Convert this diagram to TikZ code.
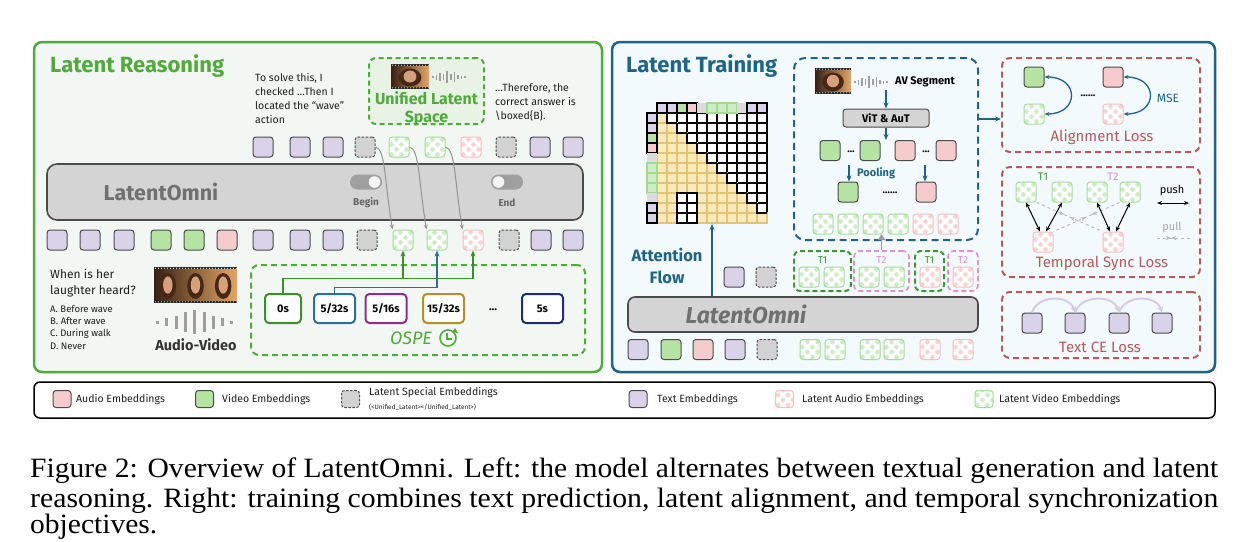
\documentclass[tikz,border=0pt]{standalone}
\usepackage{fontspec}
\setmainfont{Fira Sans}
\newfontfamily\capfont{Liberation Serif}
\usetikzlibrary{arrows.meta,calc,decorations.markings}
\definecolor{lrG}{RGB}{80,170,60}
\definecolor{lrF}{RGB}{243,247,244}
\definecolor{ltB}{RGB}{30,100,135}
\definecolor{ltF}{RGB}{242,250,253}
\definecolor{lossR}{RGB}{180,90,90}
\definecolor{tokP}{RGB}{217,210,233}
\definecolor{tokG}{RGB}{180,227,162}
\definecolor{tokR}{RGB}{246,203,203}
\definecolor{tokS}{RGB}{210,210,210}
\definecolor{tokB}{RGB}{75,75,75}
\definecolor{chkGB}{RGB}{160,220,145}
\definecolor{chkG}{RGB}{206,237,198}
\definecolor{chkRB}{RGB}{243,190,190}
\definecolor{chkR}{RGB}{249,212,212}
\definecolor{barG}{RGB}{212,212,212}
\definecolor{barT}{RGB}{112,112,112}
\definecolor{mY}{RGB}{252,235,185}
\definecolor{mYB}{RGB}{226,195,120}
\definecolor{cA}{RGB}{62,142,46}
\definecolor{cB}{RGB}{43,112,153}
\definecolor{cC}{RGB}{140,46,140}
\definecolor{cD}{RGB}{184,144,42}
\definecolor{cE}{RGB}{29,47,112}
\definecolor{tPk}{RGB}{225,140,215}
\definecolor{tGn}{RGB}{62,150,46}
\definecolor{txt}{RGB}{30,30,30}
\definecolor{ceP}{RGB}{213,204,230}
\definecolor{ulF}{RGB}{232,243,230}
\definecolor{skin}{RGB}{214,160,125}
\definecolor{hair}{RGB}{70,40,25}
\newcommand\chkpat[1]{%
  \foreach \ci in {0,1,2,3}{\foreach \cj in {0,1,2,3}{%
    \pgfmathtruncatemacro\ck{mod(\ci+\cj,2)}%
    \ifnum\ck=0 \fill[#1] ($(path picture bounding box.south west)+(\ci*5pt,\cj*5pt)$) rectangle ++(5pt,5pt);\fi}}}
\newcommand\wavebars[5]{%
  \foreach \hh [count=\nn from 0] in {#5}{\fill[gray!75] (#1+\nn*#3,#2-\hh) rectangle ++(#4,2*\hh);}}
\newcommand\thumb[5]{%
  \fill[black!85] (#1,#2) rectangle (#3,#4);
  \shade[left color=hair!80!black, right color=orange!40!brown!70!white] (#1,#2+2.5) rectangle (#3,#4-2.5);
  \foreach \ff in {1,...,#5}{%
    \pgfmathsetmacro\fx{#1+(\ff-0.5)*(#3-#1)/#5}%
    \pgfmathsetmacro\fy{(#2+#4)/2}%
    \pgfmathsetmacro\fw{(#3-#1)/#5}%
    \pgfmathsetmacro\fh{(#4-#2)}%
    \fill[hair] (\fx,\fy+1) ellipse ({\fw*0.3} and {\fh*0.36});
    \fill[skin] (\fx,\fy) ellipse ({\fw*0.17} and {\fh*0.24});}
  \foreach \k in {0,...,40}{%
    \pgfmathsetmacro\sx{#1+1.5+3*\k}%
    \ifdim\sx pt<#3pt \fill[white] (\sx,#2+1.2) circle (0.55); \fill[white] (\sx,#4-1.2) circle (0.55);\fi}}
\tikzset{
  tok/.style={minimum size=20pt, inner sep=0pt, rounded corners=3pt, line width=1pt, draw=tokB},
  tp/.style={tok, fill=tokP},
  tg/.style={tok, fill=tokG},
  tr/.style={tok, fill=tokR},
  ts/.style={tok, fill=tokS, dash pattern=on 2.5pt off 1.5pt},
  lg/.style={tok, draw=chkGB, fill=white, path picture={\chkpat{chkG}}},
  lr/.style={tok, draw=chkRB, fill=white, path picture={\chkpat{chkR}}},
  lgd/.style={minimum width=18pt, minimum height=17pt},
  lobar/.style={draw=tokB, fill=barG, line width=1.6pt, rounded corners=10pt},
  body/.style={text=txt, font=\fontsize{10.5}{14}\selectfont, inner sep=0pt, align=left},
  tbox/.style={draw=#1, line width=2pt, rounded corners=4pt, fill=white, minimum height=29pt, minimum width=41pt, inner sep=0pt, text=black, font=\bfseries\fontsize{11}{13}\selectfont},
  lossbox/.style={draw=lossR, line width=2pt, dash pattern=on 6pt off 4pt, rounded corners=8pt},
  losst/.style={text=lossR, font=\fontsize{15}{17}\selectfont},
  garr/.style={draw=gray!85, line width=1pt, -{Stealth[length=5pt,width=4pt]}},
  harr/.style={draw=black, line width=1pt, {Stealth[length=5pt,width=4pt]}-{Stealth[length=5pt,width=4pt]}},
  pullln/.style={draw=gray!55, dashed, line width=1pt, postaction={decorate}, decoration={markings, mark=at position 0.42 with {\arrow{Stealth[length=5pt,width=4pt]}}, mark=at position 0.58 with {\arrow{Stealth[length=5pt,width=4pt,reversed]}}}},
  barr/.style={draw=ltB, line width=1.5pt, -{Stealth[length=6pt,width=5pt]}},
  hP/.style={fill=tokP, draw=black},
  hG/.style={fill=tokG, draw=black},
  hR/.style={fill=tokR, draw=black},
  hS/.style={fill=tokS!80!white, draw=none},
  hL/.style={fill=chkG, draw=chkGB}
}
\begin{document}
\begin{tikzpicture}[x=1pt,y=-1pt]
\useasboundingbox (0,0) rectangle (1249,541);
\fill[white] (0,0) rectangle (1249,541);

% ================= LEFT PANEL =================
\node[draw=lrG, fill=lrF, line width=2.5pt, rounded corners=8pt, minimum width=568pt, minimum height=330pt] (lp) at (318,207) {};
\node[anchor=west, text=lrG, font=\bfseries\fontsize{22}{26}\selectfont, inner sep=0pt] (lrt) at (50,66) {Latent Reasoning};
\node[body, anchor=north west] (tx1) at (255,73) {To solve this, I\\checked …Then I\\located the “wave”\\action};
\node[body, anchor=north west] (tx2) at (495,83) {…Therefore, the\\correct answer is\\\textbackslash boxed\{B\}.};

\node[draw=lrG, fill=ulF, line width=2pt, dash pattern=on 5pt off 3.5pt, rounded corners=7pt, minimum width=115pt, minimum height=66pt] (ul) at (426.5,91) {};
\thumb{391}{64}{429}{89}{1}
\wavebars{432}{77}{3.6}{1.5}{1,2.5,4,3,6,3,5,2,1.5,1}
\node[text=lrG, font=\bfseries\fontsize{16}{17.5}\selectfont, align=center, inner sep=0pt] (ult) at (426.5,109) {Unified Latent\\Space};

% top row
\node[tp] (a1) at (263,147) {};
\node[tp] (a2) at (300,147) {};
\node[tp] (a3) at (333,147) {};
\node[ts] (a4) at (365,147) {};
\node[lg] (a5) at (399,147) {};
\node[lg] (a6) at (435,147) {};
\node[lr] (a7) at (471,147) {};
\node[ts] (a8) at (506,147) {};
\node[tp] (a9) at (540,147) {};
\node[tp] (a10) at (573,147) {};

% LatentOmni bar
\node[lobar, minimum width=536pt, minimum height=56pt] (lo1) at (315,192) {};
\node[text=barT, font=\bfseries\fontsize{21.5}{24}\selectfont] (lo1t) at (161,192) {LatentOmni};
\node[fill=gray!75, rounded corners=7.5pt, minimum width=32pt, minimum height=15pt, inner sep=0pt] (tgb) at (366,182) {};
\fill[white!92!gray] (374.5,182) circle (5.8);
\node[text=barT!90!black, font=\bfseries\fontsize{10}{12}\selectfont] (tgbl) at (366,203) {Begin};
\node[fill=gray!75, rounded corners=7.5pt, minimum width=32pt, minimum height=15pt, inner sep=0pt] (tge) at (507,182) {};
\fill[white!92!gray] (498.5,182) circle (5.8);
\node[text=barT!90!black, font=\bfseries\fontsize{10}{12}\selectfont] (tgel) at (507,203) {End};

% bottom row
\node[tp] (b1) at (57,240) {};
\node[tp] (b2) at (90,240) {};
\node[tp] (b3) at (124,240) {};
\node[tg] (b4) at (161,240) {};
\node[tg] (b5) at (194,240) {};
\node[tr] (b6) at (227,240) {};
\node[tp] (b7) at (263,240) {};
\node[tp] (b8) at (300,240) {};
\node[tp] (b9) at (333,240) {};
\node[ts] (b10) at (367,240) {};
\node[lg] (b11) at (403,240) {};
\node[lg] (b12) at (437,240) {};
\node[lr] (b13) at (473,240) {};
\node[ts] (b14) at (509,240) {};
\node[tp] (b15) at (541,240) {};
\node[tp] (b16) at (573,240) {};

\draw[garr] (a4.east) .. controls +(10,2) and +(-8,-48) .. (b11.north west);
\draw[garr] (a5.east) .. controls +(10,2) and +(-8,-48) .. (b12.north west);
\draw[garr] (a6.east) .. controls +(10,2) and +(-8,-48) .. (b13.north west);

% question
\node[body, anchor=north west, font=\fontsize{12}{16}\selectfont] (q) at (50,269) {When is her\\laughter heard?};
\node[body, anchor=north west, font=\fontsize{9.5}{12.3}\selectfont] (qo) at (50,305) {A. Before wave\\B. After wave\\C. During walk\\D. Never};
\thumb{154}{267}{237}{303}{3}
\wavebars{156}{322}{9.3}{3}{1.5,4,6.5,10,12,10,6.5,4,1.5}
\node[text=black!80, font=\bfseries\fontsize{14.5}{16}\selectfont] (avl) at (196,345) {Audio-Video};

% OSPE
\node[draw=lrG, line width=2pt, dash pattern=on 6pt off 4pt, rounded corners=8pt, minimum width=334pt, minimum height=90pt] (ospe) at (418,310) {};
\node[tbox=cA, minimum width=36pt] (s0) at (283,308.5) {0s};
\node[tbox=cB] (s1) at (334.5,308.5) {5/32s};
\node[tbox=cC] (s2) at (386,308.5) {5/16s};
\node[tbox=cD] (s3) at (443.5,308.5) {15/32s};
\node[font=\bfseries\fontsize{11}{13}\selectfont] (sd) at (493,310) {…};
\node[tbox=cE] (s4) at (542.5,308.5) {5s};
\node[text=lrG, font=\itshape\fontsize{18}{20}\selectfont] (ospt) at (411,338) {OSPE};
\draw[lrG, line width=1.6pt] (448,338) circle (8);
\draw[lrG, line width=1.4pt] (447,333) -- (447,339) -- (452,339);
\fill[lrG] (455,328) -- (458,333) -- (452,332) -- cycle;

\draw[draw=cA, line width=1.8pt] (s0.north) |- ($(b13.south)+(0,28)$);
\draw[draw=cA, line width=1.8pt, -{Stealth[length=6pt,width=5pt]}] ($(b13.south)+(0,28)$) -- (b13.south);
\draw[draw=cA, line width=1.8pt, -{Stealth[length=6pt,width=5pt]}] ($(b11.south)+(0,28)$) -- (b11.south);
\draw[draw=cB, line width=1.8pt, -{Stealth[length=6pt,width=5pt]}] (s1.north) |- ($(b12.south)+(0,37)$) -- (b12.south);

% ================= RIGHT PANEL =================
\node[draw=ltB, fill=ltF, line width=2.5pt, rounded corners=8pt, minimum width=603pt, minimum height=330pt] (rp) at (913.5,207) {};
\node[anchor=west, text=ltB, font=\bfseries\fontsize{22}{26}\selectfont, inner sep=0pt] (ltt) at (626,66) {Latent Training};

% attention matrix
\fill[white] (657,113) rectangle (767,223);
\foreach \k in {0,...,11}{%
  \draw[black, line width=2pt] (657+10*\k,113) -- (657+10*\k,223);
  \draw[black, line width=2pt] (657,113+10*\k) -- (767,113+10*\k);}
\foreach \r in {1,...,11}{\foreach \c in {1,...,11}{%
  \pgfmathtruncatemacro\isY{and(\c<=\r, not(and(and(\c>=3,\c<=4),\r>=9)))}%
  \ifnum\isY=1 \draw[mYB, fill=mY, line width=1.3pt] (647+10*\c,103+10*\r) rectangle ++(10,10);\fi}}
\draw[black, line width=2pt] (677,193) rectangle (697,223) (687,193) -- (687,223) (677,203) -- (697,203) (677,213) -- (697,213);
\foreach \r in {1,...,10}{%
  \draw[black, line width=2pt] (657+10*\r,103+10*\r) -- (657+10*\r,113+10*\r) -- (667+10*\r,113+10*\r);}
\foreach \t [count=\c] in {P,P,G,R,S,L,L,L,S,P,P}{%
  \draw[h\t, line width=1.6pt] (647+10*\c,103) rectangle ++(10,10);
  \draw[h\t, line width=1.6pt] (647,103+10*\c) rectangle ++(10,10);}
\coordinate (mtxb) at (712,224);

\node[lobar, minimum width=350pt, minimum height=35pt, rounded corners=7pt] (lo2) at (803,314.5) {};
\node[text=barT, font=\bfseries\itshape\fontsize{23}{26}\selectfont] (lo2t) at (746,314.5) {LatentOmni};
\draw[barr] (mtxb |- lo2.north) -- (mtxb);
\node[text=ltB, font=\bfseries\fontsize{16.5}{22}\selectfont, align=center] (attf) at (667,266) {Attention\\Flow};

% AV segment box
\node[draw=ltB, line width=2pt, dash pattern=on 7pt off 4.5pt, rounded corners=11pt, minimum width=184pt, minimum height=182pt] (avbox) at (886,149) {};
\thumb{815}{68}{851}{94}{1}
\wavebars{854}{82}{3.6}{1.5}{1,2.5,4,3,6,3,5,2,1.5,1}
\node[anchor=west, text=black, font=\bfseries\fontsize{11}{13}\selectfont, inner sep=0pt] (avs) at (895,82) {AV Segment};
\coordinate (wv2) at (886,90);
\node[draw=tokB, fill=barG, line width=1pt, rounded corners=3pt, minimum width=86pt, minimum height=18pt, inner sep=0pt, font=\bfseries\fontsize{11}{13}\selectfont] (vit) at (886,118) {ViT \& AuT};
\draw[barr] (wv2) -- (vit.north);
\node[tg] (v1) at (830,150.5) {};
\node[font=\bfseries\fontsize{10}{12}\selectfont] (vd1) at (851,152) {…};
\node[tg] (v2) at (870,150.5) {};
\node[tr] (v3) at (905,150.5) {};
\node[font=\bfseries\fontsize{10}{12}\selectfont] (vd2) at (926,152) {…};
\node[tr] (v4) at (946,150.5) {};
\coordinate (vtok) at (886,140);
\draw[barr] (vit.south) -- (vtok);
\node[tg] (pg) at (848,192) {};
\node[font=\bfseries\fontsize{10}{12}\selectfont] (pd) at (890,193) {……};
\node[tr] (pr) at (926,192) {};
\draw[barr] ($(pg.north)+(1,-17)$) -- ($(pg.north)+(1,0)$);
\draw[barr] ($(pr.north)+(-1,-17)$) -- ($(pr.north)+(-1,0)$);
\node[anchor=west, text=ltB, font=\bfseries\fontsize{11}{13}\selectfont, inner sep=0pt] (pool) at (857,173) {Pooling};
\node[lg] (w1) at (823,224) {};
\node[lg] (w2) at (848,224) {};
\node[lg] (w3) at (873,224) {};
\node[lg] (w4) at (898,224) {};
\node[lr] (w5) at (923,224) {};
\node[lr] (w6) at (948,224) {};

% T groups
\node[draw=tGn, line width=2pt, dash pattern=on 5pt off 3pt, rounded corners=6pt, minimum width=57pt, minimum height=40pt] (g1) at (822.5,271) {};
\node[draw=tPk, line width=1.6pt, dash pattern=on 5pt off 3pt, rounded corners=6pt, minimum width=55pt, minimum height=40pt] (g2) at (881.5,271) {};
\node[draw=tGn, line width=2pt, dash pattern=on 5pt off 3pt, rounded corners=6pt, minimum width=29pt, minimum height=40pt] (g3) at (929.5,271) {};
\node[draw=tPk, line width=1.6pt, dash pattern=on 5pt off 3pt, rounded corners=6pt, minimum width=30pt, minimum height=40pt] (g4) at (963,271) {};
\node[text=tGn, font=\fontsize{10}{12}\selectfont] (g1l) at (822.5,260) {T1};
\node[text=tPk, font=\fontsize{10}{12}\selectfont] (g2l) at (881.5,260) {T2};
\node[text=tGn, font=\fontsize{10}{12}\selectfont] (g3l) at (929.5,260) {T1};
\node[text=tPk, font=\fontsize{10}{12}\selectfont] (g4l) at (963,260) {T2};
\node[lg] (x1) at (809,277) {};
\node[lg] (x2) at (834,277) {};
\node[lg] (x3) at (869,277) {};
\node[lg] (x4) at (894,277) {};
\node[lr] (x5) at (930,277) {};
\node[lr] (x6) at (963,277) {};
\node[tp] (x7) at (734,277) {};
\node[ts] (x8) at (766,277) {};
\draw[draw=gray!80, line width=1.5pt, -{Triangle[length=6pt,width=7pt]}] (g2.north) -- ($(g2.north)+(0,-16)$);

% bottom row right
\node[tp] (y1) at (638,349.5) {};
\node[tg] (y2) at (671,349.5) {};
\node[tr] (y3) at (703,349.5) {};
\node[tp] (y4) at (735,349.5) {};
\node[ts] (y5) at (767,349.5) {};
\node[lg] (y6) at (810,349.5) {};
\node[lg] (y7) at (835,349.5) {};
\node[lg] (y8) at (870,349.5) {};
\node[lg] (y9) at (894,349.5) {};
\node[lr] (y10) at (930,349.5) {};
\node[lr] (y11) at (963,349.5) {};

% Alignment loss
\node[lossbox, minimum width=198pt, minimum height=94pt] (alb) at (1101,105) {};
\coordinate (aout) at (978,119);
\draw[barr] (aout) -- (alb.west |- aout);
\node[tg] (ag) at (1034,77) {};
\node[lg] (agl) at (1034,114) {};
\node[tr] (ar) at (1113,77) {};
\node[lr] (arl) at (1113,114) {};
\node[font=\bfseries\fontsize{10}{12}\selectfont] (ad) at (1088,96) {……};
\draw[draw=ltB, line width=1.3pt, {Stealth[length=5pt,width=4pt]}-{Stealth[length=5pt,width=4pt]}] (ag.east) .. controls +(35,0) and +(35,0) .. (agl.east);
\draw[draw=ltB, line width=1.3pt, {Stealth[length=5pt,width=4pt]}-{Stealth[length=5pt,width=4pt]}] (ar.east) .. controls +(35,0) and +(35,0) .. (arl.east);
\node[text=ltB, font=\fontsize{12}{14}\selectfont] (mse) at (1168,98) {MSE};
\node[losst] (alt) at (1102,137) {Alignment Loss};

% Temporal sync loss
\node[lossbox, minimum width=198pt, minimum height=110pt] (tsb) at (1101,222) {};
\node[text=tGn, font=\fontsize{11}{13}\selectfont] (t1l) at (1043,177) {T1};
\node[text=tPk, font=\fontsize{11}{13}\selectfont] (t2l) at (1113,177) {T2};
\node[lg] (q1) at (1026,192) {};
\node[lg] (q2) at (1062,192) {};
\node[lg] (q3) at (1097,192) {};
\node[lg] (q4) at (1130,192) {};
\node[lr] (r1) at (1043,242) {};
\node[lr] (r2) at (1113,242) {};
\draw[pullln] (q1.south east) -- (r2.north west);
\draw[pullln] (q4.south west) -- (r1.north east);
\draw[harr] (q1.south) -- ($(r1.north)+(-3,0)$);
\draw[harr] (q2.south) -- ($(r1.north)+(3,0)$);
\draw[harr] (q3.south) -- ($(r2.north)+(-3,0)$);
\draw[harr] (q4.south) -- ($(r2.north)+(3,0)$);
\node[font=\fontsize{11}{13}\selectfont] (pusht) at (1172,191) {push};
\coordinate (pu1) at (1157,203);
\coordinate (pu2) at (1189,203);
\draw[harr] (pu1) -- (pu2);
\node[text=gray!70, font=\fontsize{11}{13}\selectfont] (pullt) at (1172,228) {pull};
\coordinate (pl1) at (1157,238);
\coordinate (pl2) at (1190,238);
\draw[pullln] (pl1) -- (pl2);
\node[losst] (tst) at (1102,263) {Temporal Sync Loss};

% Text CE loss
\node[lossbox, minimum width=198pt, minimum height=66pt] (ceb) at (1101,325) {};
\node[tp] (c1) at (1032,323) {};
\node[tp] (c2) at (1075,323) {};
\node[tp] (c3) at (1119,323) {};
\node[tp] (c4) at (1162,323) {};
\draw[draw=ceP, line width=2pt, -{Stealth[length=6pt,width=6pt]}] (c1.north) .. controls +(6,-18) and +(-6,-18) .. (c2.north);
\draw[draw=ceP, line width=2pt, -{Stealth[length=6pt,width=6pt]}] (c2.north) .. controls +(6,-18) and +(-6,-18) .. (c3.north);
\draw[draw=ceP, line width=2pt, -{Stealth[length=6pt,width=6pt]}] (c3.north) .. controls +(6,-18) and +(-6,-18) .. (c4.north);
\node[losst] (cet) at (1100,347) {Text CE Loss};

% ================= LEGEND =================
\node[draw=black, fill=white, line width=1.5pt, rounded corners=6pt, minimum width=1181pt, minimum height=36pt] (leg) at (624.5,400) {};
\node[tr, lgd] (la) at (62,399) {};
\node[anchor=west, body] (lat) at (76,400) {Audio Embeddings};
\node[tg, lgd] (lv) at (204.5,399) {};
\node[anchor=west, body] (lvt) at (222,400) {Video Embeddings};
\node[ts, lgd] (ls) at (350.5,399) {};
\node[anchor=west, body] (lst) at (369,393) {Latent Special Embeddings};
\node[anchor=west, body, font=\fontsize{6.5}{8}\selectfont] (lst2) at (369,407.5) {(<Unified\_Latent></Unified\_Latent>)};
\node[tp, lgd] (lt) at (638,399) {};
\node[anchor=west, body] (ltt2) at (657,400) {Text Embeddings};
\node[lr, lgd] (lla) at (784.5,399) {};
\node[anchor=west, body] (llat) at (802,400) {Latent Audio Embeddings};
\node[lg, lgd] (llv) at (984,399) {};
\node[anchor=west, body] (llvt) at (999,400) {Latent Video Embeddings};

% ================= CAPTION =================
\node[anchor=base west, inner sep=0pt, font=\capfont\fontsize{28}{30}\selectfont] (cap1) at (30,477) {\resizebox{1188pt}{\height}{Figure 2: Overview of LatentOmni. Left: the model alternates between textual generation and latent}};
\node[anchor=base west, inner sep=0pt, font=\capfont\fontsize{28}{30}\selectfont] (cap2) at (30,507) {\resizebox{1188pt}{\height}{reasoning. Right: training combines text prediction, latent alignment, and temporal synchronization}};
\node[anchor=base west, inner sep=0pt, font=\capfont\fontsize{28}{30}\selectfont] (cap3) at (30,533) {\resizebox{127pt}{\height}{objectives.}};
\end{tikzpicture}
\end{document}
